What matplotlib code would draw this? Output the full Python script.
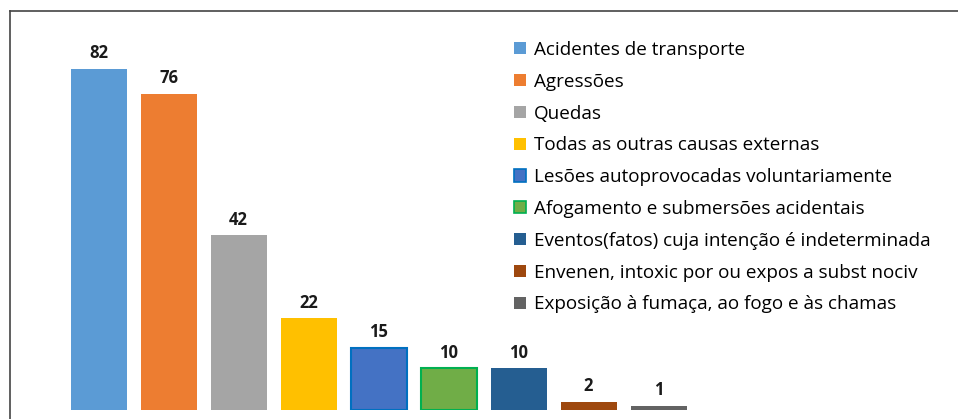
import matplotlib.pyplot as plt
from matplotlib.patches import Patch
from matplotlib.lines import Line2D

causes = ['Acidentes de transporte', 'Agressões', 'Quedas',
          'Todas as outras causas externas', 'Lesões autoprovocadas voluntariamente',
          'Afogamento e submersões acidentais',
          'Eventos(fatos) cuja intenção é indeterminada',
          'Envenen, intoxic por ou expos a subst nociv',
          'Exposição à fumaça, ao fogo e às chamas']
values = [82, 76, 42, 22, 15, 10, 10, 2, 1]
colors = ['#5B9BD5', '#ED7D31', '#A5A5A5', '#FFC000', '#4472C4',
          '#70AD47', '#255E91', '#9E480E', '#636363']
edges = [None, None, None, None, '#0070C0', '#00B050', None, None, None]

plt.rcParams['font.family'] = ['Open Sans', 'DejaVu Sans']

W, H = 958, 419
fig = plt.figure(figsize=(W / 100, H / 100), dpi=100)

# axes spans the frame area; bottom of bars at y=410 px
x0, x1, ytop, ybot = 10, 958, 11, 410
ax = fig.add_axes([x0 / W, 1 - ybot / H, (x1 - x0) / W, (ybot - ytop) / H])
ax.set_xlim((x0 - 98.5) / 70, (x1 - 98.5) / 70)
ax.set_ylim(0, (ybot - ytop) / 4.16)
for s in ax.spines.values():
    s.set_visible(False)
ax.set_xticks([])
ax.set_yticks([])

handles = []
for i, (v, c, e) in enumerate(zip(values, colors, edges)):
    if e:
        ax.bar(i, v, width=0.8, color=c, edgecolor=e, linewidth=1.5)
    else:
        ax.bar(i, v, width=0.8, color=c, linewidth=0)
    ax.text(i, v + 1.6, str(v), ha='center', va='bottom', fontsize=12,
            fontweight='bold', color='#1a1a1a')
    handles.append(Patch(facecolor=c, edgecolor=e if e else c,
                         linewidth=1.2 if e else 0))

fig.legend(handles, causes, loc='upper left', bbox_to_anchor=(514 / W, 1 - 41 / H),
           frameon=False, fontsize=13.6, handlelength=0.62, handleheight=0.62,
           handletextpad=0.43, labelspacing=0.73, borderaxespad=0, borderpad=0)

# frame lines
fig.add_artist(Line2D([x0 / W, x0 / W], [0, 1 - ytop / H], color='#444444', lw=1.2))
fig.add_artist(Line2D([x0 / W, 1], [1 - ytop / H, 1 - ytop / H], color='#444444', lw=1.2))

fig.savefig('out.png', dpi=100)
